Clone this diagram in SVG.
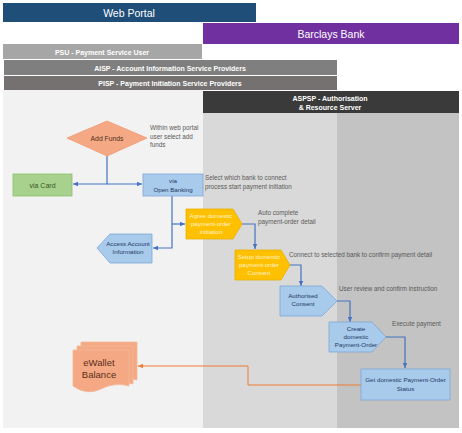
<svg xmlns="http://www.w3.org/2000/svg" width="462" height="433" viewBox="0 0 462 433">
<defs>
<style>
text{font-family:"Liberation Sans","DejaVu Sans",sans-serif}
.bar{font-size:7px;font-weight:bold;fill:#fff;text-anchor:middle}
.big{font-size:10.5px;fill:#fff;text-anchor:middle}
.note{font-size:6.3px;fill:#595959}
.blue{fill:#A8CAEB;stroke:#7FA7D6;stroke-width:0.8}
.btxt{font-size:6.2px;fill:#1F3864;text-anchor:middle}
.yel{fill:#FFC000;stroke:#E8B000;stroke-width:0.8}
.ytxt{font-size:6.2px;fill:#FFF3CF;text-anchor:middle}
.con{fill:none;stroke:#4472C4;stroke-width:1.2}
.ocon{fill:none;stroke:#ED7D31;stroke-width:1}
</style>
<marker id="ab" markerWidth="6" markerHeight="6" refX="5" refY="3" orient="auto" markerUnits="userSpaceOnUse"><path d="M0,0.8 L5,3 L0,5.2 z" fill="#4472C4"/></marker>
<marker id="ao" markerWidth="6" markerHeight="6" refX="5" refY="3" orient="auto" markerUnits="userSpaceOnUse"><path d="M0,0.8 L5,3 L0,5.2 z" fill="#ED7D31"/></marker>
</defs>
<rect width="462" height="433" fill="#fff"/>
<g id="lanes">
<rect x="3" y="90" width="200" height="338" fill="#F2F2F2"/>
<rect x="203" y="113" width="134" height="315" fill="#D9D9D9"/>
<rect x="337" y="113" width="122" height="315" fill="#C3C3C3"/>
</g>
<g id="bar-webportal"><rect x="3" y="3" width="253" height="19" fill="#1F4E79"/><text class="big" x="129" y="16.5">Web Portal</text></g>
<g id="bar-barclays"><rect x="203" y="23" width="256" height="21" fill="#7030A0"/><text class="big" x="331" y="37.5">Barclays Bank</text></g>
<g id="bar-psu"><rect x="3" y="44" width="199" height="15" fill="#A6A6A6"/><text class="bar" x="102" y="54.5">PSU - Payment Service User</text></g>
<g id="bar-aisp"><rect x="4" y="60" width="333" height="15" fill="#7F7F7F"/><text class="bar" x="170" y="70.5">AISP - Account Information Service Providers</text></g>
<g id="bar-pisp"><rect x="4" y="76" width="333" height="14" fill="#767171"/><text class="bar" x="170" y="86">PISP - Payment Initiation Service Providers</text></g>
<g id="bar-aspsp"><rect x="203" y="91" width="256" height="22" fill="#3A3A3A"/><text class="bar" x="330" y="101">ASPSP - Authorisation</text><text class="bar" x="330" y="110">&amp; Resource Server</text></g>

<g id="connectors">
<path class="con" d="M107,156 V184 H73" marker-end="url(#ab)"/>
<path class="con" d="M107,184 H142" marker-end="url(#ab)"/>
<path class="con" d="M172,196 V248 H153" marker-end="url(#ab)"/>
<path class="con" d="M172,224 H185" marker-end="url(#ab)"/>
<path class="con" d="M242,224 H255 V249" marker-end="url(#ab)"/>
<path class="con" d="M290,265 H301 V286" marker-end="url(#ab)"/>
<path class="con" d="M337,301 H350 V322" marker-end="url(#ab)"/>
<path class="con" d="M386,337 H405 V368" marker-end="url(#ab)"/>
<path class="ocon" d="M361,385 H248 V366 H138" marker-end="url(#ao)"/>
</g>

<g id="add-funds"><polygon points="107,121 147,138 107,156 67,138" fill="#F4A984" stroke="#F09A72" stroke-width="0.8"/><text x="107" y="141" font-size="6.8" fill="#4D3020" text-anchor="middle">Add Funds</text></g>
<g id="note-addfunds"><text class="note" x="150" y="130">Within web portal</text><text class="note" x="150" y="138.5">user select add</text><text class="note" x="150" y="147">funds</text></g>
<g id="via-card"><rect x="13" y="174" width="59" height="22" fill="#A9D18E" stroke="#8CC06E" stroke-width="0.8"/><text x="42.5" y="187.5" font-size="7" fill="#375623" text-anchor="middle">via Card</text></g>
<g id="via-ob"><rect class="blue" x="143" y="174" width="60" height="22"/><text class="btxt" x="173" y="183">via</text><text class="btxt" x="173" y="191.5">Open Banking</text></g>
<g id="note-ob"><text class="note" x="205" y="180">Select which bank to connect</text><text class="note" x="205" y="189">process start payment initiation</text></g>
<g id="access-account"><polygon class="blue" points="97,248 110,234 152,234 152,263 110,263"/><text class="btxt" x="128" y="246">Access Account</text><text class="btxt" x="128" y="254">Information</text></g>
<g id="agree"><polygon class="yel" points="186,209 233,209 242,224 233,239 186,239"/><text class="ytxt" x="211" y="218">Agree domestic</text><text class="ytxt" x="211" y="226">payment-order</text><text class="ytxt" x="211" y="234">initiation</text></g>
<g id="note-agree"><text class="note" x="258" y="215">Auto complete</text><text class="note" x="258" y="224">payment-order detail</text></g>
<g id="setup"><polygon class="yel" points="235,250 281,250 290,265 281,280 235,280"/><text class="ytxt" x="259" y="259">Setup domestic</text><text class="ytxt" x="259" y="267">payment-order</text><text class="ytxt" x="259" y="275">Consent</text></g>
<g id="note-setup"><text class="note" x="289" y="257">Connect to selected bank to confirm payment detail</text></g>
<g id="authorised"><polygon class="blue" points="280,286 322,286 337,301 322,316 280,316"/><text class="btxt" x="303" y="298">Authorised</text><text class="btxt" x="303" y="306">Consent</text></g>
<g id="note-auth"><text class="note" x="339" y="291">User review and confirm instruction</text></g>
<g id="create"><polygon class="blue" points="329,322 372,322 386,337 372,352 329,352"/><text class="btxt" x="356" y="331">Create</text><text class="btxt" x="356" y="339">domestic</text><text class="btxt" x="356" y="347">Payment-Order</text></g>
<g id="note-create"><text class="note" x="392" y="326">Execute payment</text></g>
<g id="get-status"><rect class="blue" x="361" y="369" width="89" height="31"/><text class="btxt" x="405.5" y="382">Get domestic Payment-Order</text><text class="btxt" x="405.5" y="390.5">Status</text></g>
<g id="ewallet">
<path d="M81,342 H137 V380 Q123,376 109,382 T81,380 Z" fill="#F4A984" stroke="#F2B79A" stroke-width="0.8"/>
<path d="M77,346 H133 V384 Q119,380 105,386 T77,384 Z" fill="#F4A984" stroke="#F2B79A" stroke-width="0.8"/>
<path d="M73,350 H129 V386 Q115,382 101,389 T73,386 Z" fill="#F4A984" stroke="#F2B79A" stroke-width="0.8"/>
<text x="99" y="366" font-size="9.5" fill="#5A2E1A" text-anchor="middle">eWallet</text>
<text x="99" y="378" font-size="9.5" fill="#5A2E1A" text-anchor="middle">Balance</text>
</g>
</svg>
